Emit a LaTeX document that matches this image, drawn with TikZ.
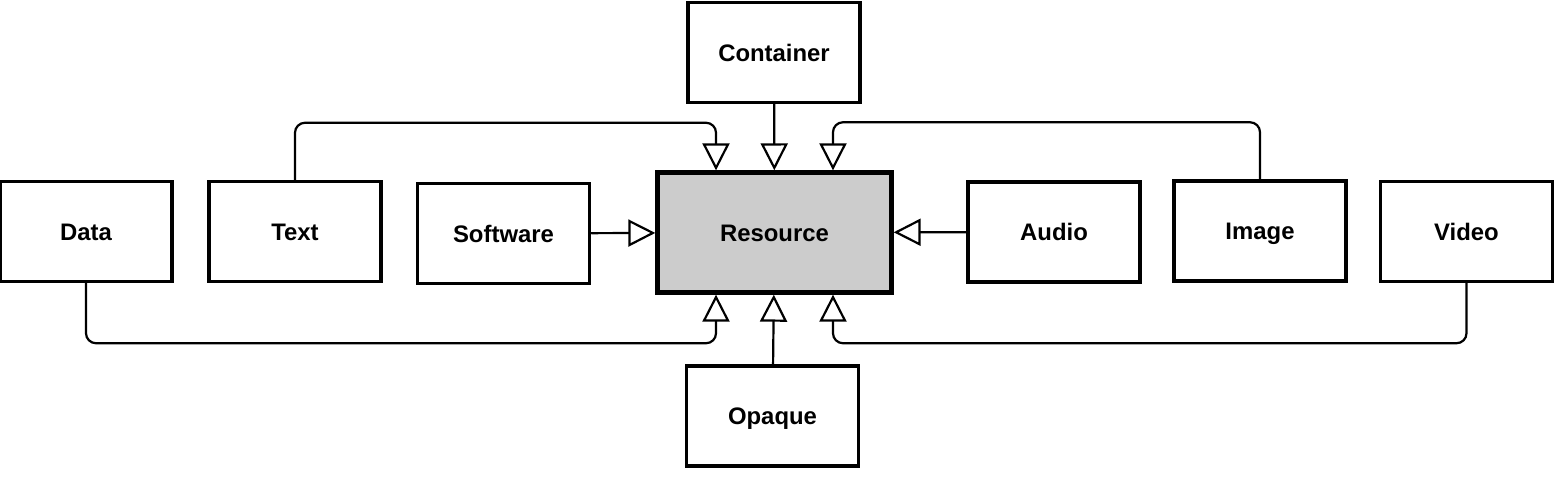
\documentclass[tikz,border=0pt]{standalone}
\usepackage{fontspec}
\setmainfont{Liberation Sans}
\usetikzlibrary{arrows.meta}

\begin{document}
\begin{tikzpicture}[x=0.02cm, y=-0.02cm,
    box/.style={rectangle, draw, line width=2pt, minimum width=3.44cm,
    minimum height=2cm, text height=9.8pt, text depth=0pt,
    font=\fontsize{13.6}{16}\selectfont\bfseries},
    res/.style={box, fill=black!20, line width=2.5pt, minimum width=4.68cm,
    minimum height=2.4cm},
    gen/.style={->, line width=1.25pt, rounded corners=0.2cm},
    >={Triangle[open,length=0.54cm,width=0.54cm]}]

  \useasboundingbox (0,0) rectangle (1565,483);

  \node[res] (Resource) at (774.5,232.5) {Resource};
  \node[box] (Container) at (774,52.5) {Container};
  \node[box] (Opaque) at (772.5,416) {Opaque};
  \node[box] (Data) at (86,231.5) {Data};
  \node[box] (Text) at (295,231.5) {Text};
  \node[box] (Software) at (503.5,233.5) {Software};
  \node[box] (Audio) at (1054,232) {Audio};
  \node[box] (Image) at (1260,231) {Image};
  \node[box] (Video) at (1466.5,231.5) {Video};

  \draw[gen] (Container) -- (Resource);
  \draw[gen] (Opaque) -- (Resource);
  \draw[gen] (Software) -- (Resource);
  \draw[gen] (Audio) -- (Resource);

  \draw[gen] (Text.north) -- ++(0,-57) -| ([xshift=-1.17cm]Resource.north);
  \draw[gen] (Image.north) -- ++(0,-57) -| ([xshift=1.17cm]Resource.north);
  \draw[gen] (Data.south) -- ++(0,60) -| ([xshift=-1.17cm]Resource.south);
  \draw[gen] (Video.south) -- ++(0,60) -| ([xshift=1.17cm]Resource.south);

\end{tikzpicture}
\end{document}
